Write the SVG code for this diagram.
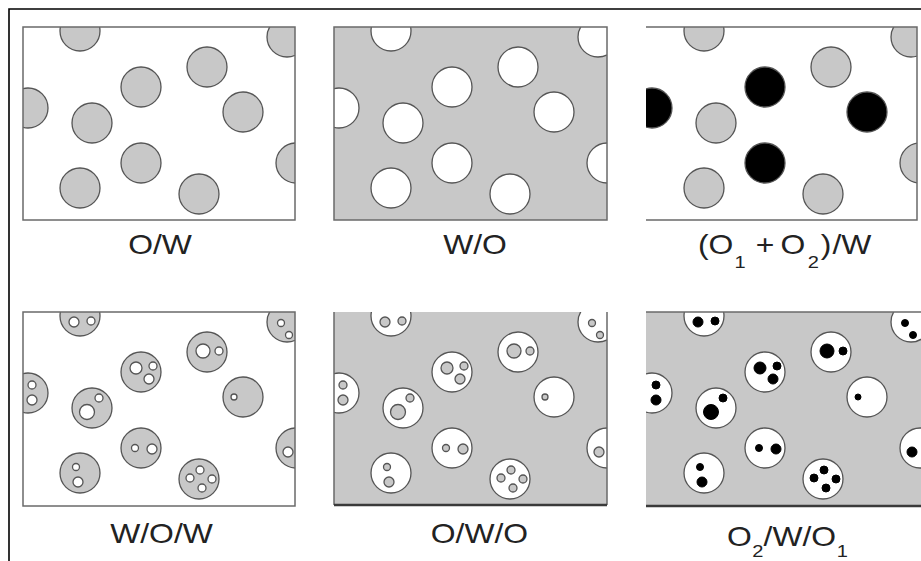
<svg xmlns="http://www.w3.org/2000/svg" xmlns:xlink="http://www.w3.org/1999/xlink" width="921" height="561" viewBox="0 0 921 561">
<style>
.bg{fill:#ffffff}
.gray{fill:#c8c8c8}
.ring{stroke:#555555;stroke-width:1.3}
.frame{fill:none;stroke:#6a6a6a;stroke-width:1.5}
.thick{stroke:#3a3a3a;stroke-width:2.5;fill:none}
.outer{stroke:#000000;stroke-width:1.6;fill:none}
.lbl{font-family:"Liberation Sans",Arial,sans-serif;font-size:27px;fill:#222222}
.sub{font-size:17px}
</style>
<defs>
<clipPath id="k1"><rect x="23" y="27" width="272" height="193"/></clipPath>
<clipPath id="k2"><rect x="334" y="27" width="273" height="193"/></clipPath>
<clipPath id="k3"><rect x="646" y="27" width="271" height="193"/></clipPath>
<clipPath id="k4"><rect x="23" y="312" width="272" height="194"/></clipPath>
<clipPath id="k5"><rect x="334" y="312" width="273" height="193"/></clipPath>
<clipPath id="k6"><rect x="646" y="312" width="275" height="194"/></clipPath>
<g id="drops">
<circle cx="80" cy="31" r="20"/>
<circle cx="287" cy="37" r="20"/>
<circle cx="141" cy="87" r="20"/>
<circle cx="207" cy="67" r="20"/>
<circle cx="28" cy="108" r="20"/>
<circle cx="92" cy="123" r="20"/>
<circle cx="243" cy="112" r="20"/>
<circle cx="296" cy="163" r="20"/>
<circle cx="141" cy="163" r="20"/>
<circle cx="80" cy="188" r="20"/>
<circle cx="199" cy="194" r="20"/>
</g>
<g id="inner">
<circle cx="74" cy="37" r="5"/><circle cx="91" cy="36" r="4"/>
<circle cx="281" cy="38" r="3.5"/><circle cx="289" cy="50" r="3.5"/>
<circle cx="136" cy="83" r="6"/><circle cx="153" cy="81" r="4"/><circle cx="149" cy="94" r="5"/>
<circle cx="203" cy="66" r="7"/><circle cx="219" cy="66" r="4"/>
<circle cx="32" cy="100" r="4"/><circle cx="32" cy="115" r="5"/>
<circle cx="87" cy="127" r="7.5"/><circle cx="99" cy="113" r="4"/>
<circle cx="234" cy="112" r="3"/>
<circle cx="288" cy="167" r="5"/>
<circle cx="135" cy="163" r="3.5"/><circle cx="152" cy="164" r="5"/>
<circle cx="76" cy="182" r="3.5"/><circle cx="78" cy="197" r="5"/>
<circle cx="200" cy="185" r="4"/><circle cx="190" cy="193" r="4"/><circle cx="212" cy="194" r="4"/><circle cx="202" cy="203" r="4"/>
</g>
</defs>

<rect x="0" y="0" width="921" height="561" fill="#ffffff"/>
<g id="border">
<path class="outer" d="M9,561 V9 H921"/>
</g>

<g id="panel-ow">
<rect class="bg" x="23" y="27" width="272" height="193"/>
<g clip-path="url(#k1)">
<use xlink:href="#drops" class="gray ring"/>
</g>
<rect class="frame" x="23" y="27" width="272" height="193"/>
<text class="lbl" transform="translate(160,254) scale(1.18,1)" text-anchor="middle">O/W</text>
</g>

<g id="panel-wo">
<rect class="gray" x="334" y="27" width="273" height="193"/>
<g clip-path="url(#k2)">
<use xlink:href="#drops" transform="translate(311,0)" fill="#ffffff" class="ring"/>
</g>
<rect class="frame" x="334" y="27" width="273" height="193"/>
<text class="lbl" transform="translate(475,254) scale(1.18,1)" text-anchor="middle">W/O</text>
</g>

<g id="panel-o1o2w">
<rect class="bg" x="646" y="27" width="271" height="193"/>
<g clip-path="url(#k3)" class="ring">
<circle class="gray" cx="704" cy="31" r="20"/>
<circle class="gray" cx="911" cy="37" r="20"/>
<circle fill="#000000" cx="765" cy="87" r="20"/>
<circle class="gray" cx="831" cy="67" r="20"/>
<circle fill="#000000" cx="652" cy="108" r="20"/>
<circle class="gray" cx="716" cy="123" r="20"/>
<circle fill="#000000" cx="867" cy="112" r="20"/>
<circle class="gray" cx="920" cy="163" r="20"/>
<circle fill="#000000" cx="765" cy="163" r="20"/>
<circle class="gray" cx="704" cy="188" r="20"/>
<circle class="gray" cx="823" cy="194" r="20"/>
</g>
<path class="frame" d="M646,27 H917 V220 H646"/>
<text class="lbl" transform="translate(698,254) scale(1.18,1)">(O<tspan class="sub" x="31" dy="14">1</tspan><tspan x="49" dy="-14">+</tspan><tspan x="70">O</tspan><tspan class="sub" x="93" dy="14">2</tspan><tspan x="104" dy="-14">)</tspan><tspan x="114">/W</tspan></text>
</g>

<g id="panel-wow">
<rect class="bg" x="23" y="312" width="272" height="194"/>
<g clip-path="url(#k4)">
<use xlink:href="#drops" transform="translate(0,285)" class="gray ring"/>
<use xlink:href="#inner" transform="translate(0,285)" fill="#ffffff" class="ring"/>
</g>
<rect class="frame" x="23" y="312" width="272" height="194"/>
<text class="lbl" transform="translate(161.5,543) scale(1.18,1)" text-anchor="middle">W/O/W</text>
</g>

<g id="panel-owo">
<rect class="gray" x="334" y="312" width="273" height="193"/>
<g clip-path="url(#k5)">
<use xlink:href="#drops" transform="translate(311,285)" fill="#ffffff" class="ring"/>
<use xlink:href="#inner" transform="translate(311,285)" class="gray ring"/>
</g>
<path class="frame" d="M334,505 V312 M607,312 V505"/>
<path class="thick" d="M334,505 H607"/>
<text class="lbl" transform="translate(479.5,543) scale(1.18,1)" text-anchor="middle">O/W/O</text>
</g>

<g id="panel-o2wo1">
<rect class="gray" x="646" y="312" width="275" height="194"/>
<g clip-path="url(#k6)">
<use xlink:href="#drops" transform="translate(624,285)" fill="#ffffff" class="ring"/>
<use xlink:href="#inner" transform="translate(624,285)" fill="#000000" stroke="#000000" stroke-width="1"/>
</g>
<path class="frame" d="M646,312 H921" stroke="#8a8a8a"/>
<path class="thick" d="M646,506 H921"/>
<text class="lbl" transform="translate(727,546) scale(1.18,1)">O<tspan class="sub" x="21.5" dy="11">2</tspan><tspan x="31" dy="-11">/W/O</tspan><tspan class="sub" x="93" dy="11">1</tspan></text>
</g>
</svg>
